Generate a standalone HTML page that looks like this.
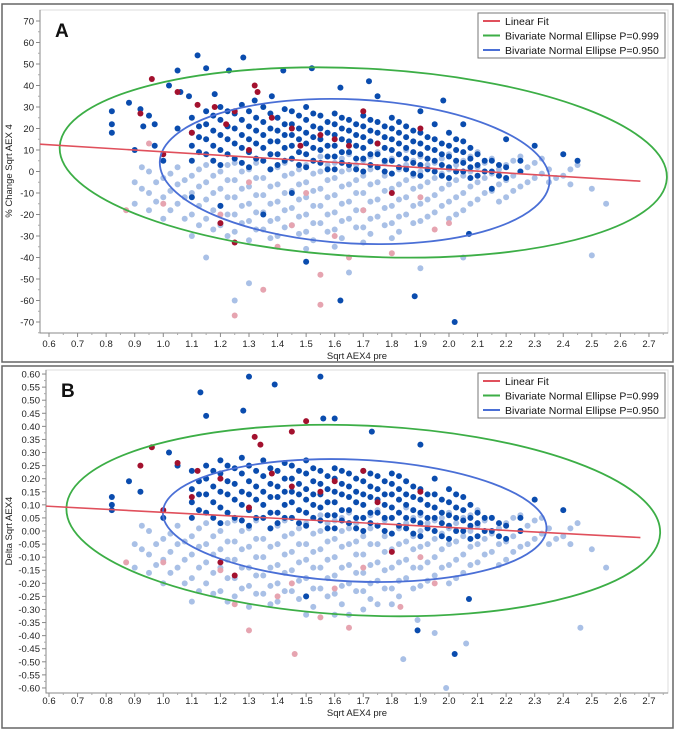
<!DOCTYPE html>
<html><head><meta charset="utf-8"><style>
html,body{margin:0;padding:0;background:#fff;}
svg{display:block;font-family:"Liberation Sans",Arial,sans-serif;}
</style></head><body>
<svg id="chart" width="675" height="731" viewBox="0 0 675 731">
<rect x="2" y="4" width="671" height="358" fill="#fff" stroke="#666" stroke-width="1.5"/>
<rect x="2" y="366" width="671" height="362" fill="#fff" stroke="#666" stroke-width="1.5"/>
<g id="pa"></g>
<g id="pb"></g>
</svg>
<script>
const xTicks=[0.6,0.7,0.8,0.9,1.0,1.1,1.2,1.3,1.4,1.5,1.6,1.7,1.8,1.9,2.0,2.1,2.2,2.3,2.4,2.5,2.6,2.7];
const yTicksA=[70,60,50,40,30,20,10,0,-10,-20,-30,-40,-50,-60,-70];
const yTicksB=[0.60,0.55,0.50,0.45,0.40,0.35,0.30,0.25,0.20,0.15,0.10,0.05,0.00,-0.05,-0.10,-0.15,-0.20,-0.25,-0.30,-0.35,-0.40,-0.45,-0.50,-0.55,-0.60];
const legendLabels=["Linear Fit","Bivariate Normal Ellipse P=0.999","Bivariate Normal Ellipse P=0.950"];

const lightA=[[0.90,[-5,-15]],[0.95,[0,-10,-18]],[1.00,[-3,-12,-22]],[1.05,[2,-6,-15]],[1.10,[-2,-10,-20,-30]],[1.15,[3,-5,-13,-22]],[1.20,[0,-8,-16,-25]],[1.25,[4,-4,-12,-20,-28]],[1.30,[1,-7,-15,-23,-32]],[1.35,[5,-3,-11,-19,-27]],[1.40,[2,-6,-14,-22,-30]],[1.45,[6,-1,-9,-17,-25]],[1.50,[3,-5,-12,-20,-28,-36]],[1.55,[7,0,-8,-16,-24]],[1.60,[4,-3,-11,-19,-27,-35]],[1.65,[8,1,-6,-14,-22]],[1.70,[5,-2,-10,-18,-26,-33]],[1.75,[9,2,-5,-13,-21]],[1.80,[6,-1,-8,-16,-24,-31]],[1.85,[10,3,-4,-12,-20]],[1.90,[7,0,-7,-15,-23]],[1.95,[4,-3,-11,-19]],[2.00,[8,1,-6,-14,-22]],[2.05,[5,-2,-10,-18]],[2.10,[9,2,-5,-13]],[2.15,[6,-1,-9]],[2.20,[3,-4,-12]],[2.25,[7,0,-7]],[2.30,[4,-3]],[2.35,[1,-5]],[2.40,[-2]],[2.45,[3]],[2.50,[-8]],[2.55,[-15]],[1.25,[-60]],[1.30,[-52]],[1.65,[-47]],[1.90,[-45]],[2.05,[-40]],[2.50,[-39]],[1.15,[-40]]];
const lightA2=[[0.925,[-8,2]],[0.975,[-5,-14]],[1.025,[-1,-9,-18]],[1.075,[-4,-12,-22]],[1.125,[1,-7,-16,-25]],[1.175,[-2,-10,-18,-27]],[1.225,[3,-4,-12,-20,-30]],[1.275,[0,-8,-16,-24]],[1.325,[4,-3,-11,-19,-27]],[1.375,[1,-7,-15,-23,-31]],[1.425,[4,-2,-10,-18,-26]],[1.475,[1,-6,-13,-21,-29]],[1.525,[5,-1,-9,-16,-24,-32]],[1.575,[3,-4,-12,-20,-28]],[1.625,[6,0,-7,-15,-23,-31]],[1.675,[3,-4,-10,-18,-26]],[1.725,[7,1,-6,-14,-22,-29]],[1.775,[4,-2,-9,-17,-25]],[1.825,[8,1,-6,-13,-21,-28]],[1.875,[5,-2,-8,-16,-24]],[1.925,[3,-5,-13,-21]],[1.975,[6,-1,-8,-16]],[2.025,[3,-4,-12,-20]],[2.075,[7,0,-7,-15]],[2.125,[4,-3,-10]],[2.175,[1,-6,-14]],[2.225,[5,-2,-9]],[2.275,[2,-5]],[2.325,[6,-1]],[2.375,[-3]],[2.425,[1,-6]]];
const darkA=[[1.10,[5,12,18,25]],[1.15,[8,15,22,28]],[1.20,[3,10,17,24,30]],[1.25,[6,13,20,27]],[1.30,[2,9,15,21,28]],[1.35,[5,11,17,23,30]],[1.40,[3,8,14,19,25]],[1.45,[6,12,17,22,28]],[1.50,[2,8,13,18,24,30]],[1.55,[4,10,15,20,26]],[1.60,[1,7,12,17,22,27]],[1.65,[3,9,14,19,24]],[1.70,[0,6,11,16,21,26]],[1.75,[2,8,13,18,23]],[1.80,[-1,5,10,15,20,25]],[1.85,[1,6,11,16,21]],[1.90,[-2,3,8,13,18]],[1.95,[0,5,10,15,22]],[2.00,[-3,2,7,12,18]],[2.05,[0,4,9,14]],[2.10,[-2,3,8]],[2.15,[0,5]],[2.20,[-3,2]],[0.82,[28,22,18]],[1.12,[54]],[1.15,[48]],[1.28,[53]],[1.23,[47]],[1.42,[47]],[1.52,[48]],[1.05,[47,20]],[1.02,[40]],[0.88,[32]],[0.92,[29]],[0.95,[26]],[0.97,[22]],[0.93,[21]],[1.06,[37]],[1.09,[35]],[1.18,[36]],[1.32,[33]],[1.38,[35]],[1.62,[39]],[1.75,[35]],[1.90,[28]],[2.05,[22]],[2.20,[15]],[2.30,[12]],[2.40,[8]],[2.45,[5]],[1.98,[33]],[1.72,[42]],[2.07,[-29]],[2.02,[-70]],[1.88,[-58]],[1.50,[-42]],[1.62,[-60]],[1.20,[-16]],[1.35,[-20]],[1.45,[-10]],[2.15,[-8]],[1.10,[-12]],[1.00,[5]],[0.90,[10]],[0.97,[12]]];
const darkA2=[[1.125,[9,16,21]],[1.175,[5,12,19,26]],[1.225,[8,15,21,28]],[1.275,[4,11,17,24,31]],[1.325,[6,13,19,25]],[1.375,[1,8,14,20,27]],[1.425,[5,11,17,22,29]],[1.475,[3,9,15,20,26]],[1.525,[5,11,16,21,27]],[1.575,[1,7,12,18,23]],[1.625,[4,9,15,20,25]],[1.675,[1,6,12,17,22]],[1.725,[3,8,14,19,24]],[1.775,[0,5,11,16,21]],[1.825,[2,8,13,18,23]],[1.875,[-1,4,9,14,19]],[1.925,[1,6,11,16]],[1.975,[-2,3,8,13]],[2.025,[0,5,10,15]],[2.075,[-3,2,6,11]],[2.125,[0,5]],[2.175,[-2,3]],[2.25,[0,5]]];
const redA=[[0.96,[43]],[0.92,[27]],[1.05,[37]],[1.12,[31]],[1.18,[30]],[1.25,[28]],[1.32,[40]],[1.33,[37]],[1.38,[25]],[1.22,[22]],[1.10,[18]],[1.45,[20]],[1.55,[17]],[1.60,[15]],[1.70,[28]],[1.75,[13]],[1.30,[10]],[1.00,[8]],[1.48,[12]],[1.20,[-24]],[1.25,[-33]],[1.65,[12]],[1.80,[-10]],[1.90,[20]]];
const pinkA=[[1.25,[-67]],[1.55,[-62]],[1.35,[-55]],[1.55,[-48]],[1.40,[-35]],[1.20,[-20]],[1.00,[-15]],[1.60,[-30]],[1.80,[-38]],[1.95,[-27]],[2.00,[-24]],[1.70,[-18]],[1.50,[-10]],[0.87,[-18]],[1.65,[-40]],[1.30,[-5]],[1.45,[-25]],[0.95,[13]],[1.90,[-12]]];

const lightB=[[0.90,[-0.05,-0.14]],[0.95,[0.00,-0.09,-0.16]],[1.00,[-0.03,-0.11,-0.20]],[1.05,[0.02,-0.05,-0.14]],[1.10,[-0.02,-0.09,-0.18,-0.27]],[1.15,[0.03,-0.05,-0.12,-0.20]],[1.20,[0.00,-0.07,-0.14,-0.23]],[1.25,[0.04,-0.04,-0.11,-0.18,-0.25]],[1.30,[0.01,-0.06,-0.14,-0.21,-0.29]],[1.35,[0.05,-0.03,-0.10,-0.17,-0.24]],[1.40,[0.02,-0.05,-0.13,-0.20,-0.27]],[1.45,[0.05,-0.01,-0.08,-0.15,-0.23]],[1.50,[0.03,-0.05,-0.11,-0.18,-0.25,-0.32]],[1.55,[0.06,0.00,-0.07,-0.14,-0.22]],[1.60,[0.04,-0.03,-0.10,-0.17,-0.24,-0.32]],[1.65,[0.07,0.01,-0.05,-0.13,-0.20]],[1.70,[0.05,-0.02,-0.09,-0.16,-0.23,-0.30]],[1.75,[0.08,0.02,-0.05,-0.12,-0.19]],[1.80,[0.05,-0.01,-0.07,-0.14,-0.22,-0.28]],[1.85,[0.09,0.03,-0.04,-0.11,-0.18]],[1.90,[0.06,0.00,-0.06,-0.14,-0.21]],[1.95,[0.04,-0.03,-0.10,-0.17]],[2.00,[0.07,0.01,-0.05,-0.13,-0.20]],[2.05,[0.05,-0.02,-0.09,-0.16]],[2.10,[0.08,0.02,-0.05,-0.12]],[2.15,[0.05,-0.01,-0.08]],[2.20,[0.03,-0.04,-0.11]],[2.25,[0.06,0.00,-0.06]],[2.30,[0.04,-0.03]],[2.35,[0.01,-0.05]],[2.40,[-0.02]],[2.45,[0.03]],[2.50,[-0.07]],[2.55,[-0.14]],[1.84,[-0.49]],[1.99,[-0.60]],[2.06,[-0.43]],[1.95,[-0.39]],[1.89,[-0.34]],[2.46,[-0.37]],[1.65,[-0.32]],[1.75,[-0.28]]];
const lightB2=[[0.925,[-0.07,0.02]],[0.975,[-0.05,-0.13]],[1.025,[-0.01,-0.08,-0.16]],[1.075,[-0.04,-0.11,-0.20]],[1.125,[0.01,-0.06,-0.14,-0.23]],[1.175,[-0.02,-0.09,-0.16,-0.24]],[1.225,[0.03,-0.04,-0.11,-0.18,-0.27]],[1.275,[0.00,-0.07,-0.14,-0.22]],[1.325,[0.04,-0.03,-0.10,-0.17,-0.24]],[1.375,[0.01,-0.06,-0.14,-0.21,-0.28]],[1.425,[0.04,-0.02,-0.09,-0.16,-0.23]],[1.475,[0.01,-0.05,-0.12,-0.19,-0.26]],[1.525,[0.05,-0.01,-0.08,-0.14,-0.22,-0.29]],[1.575,[0.03,-0.04,-0.11,-0.18,-0.25]],[1.625,[0.05,0.00,-0.06,-0.14,-0.21,-0.28]],[1.675,[0.03,-0.04,-0.09,-0.16,-0.23]],[1.725,[0.06,0.01,-0.05,-0.13,-0.20,-0.26]],[1.775,[0.04,-0.02,-0.08,-0.15,-0.22]],[1.825,[0.07,0.01,-0.05,-0.12,-0.19,-0.25]],[1.875,[0.05,-0.02,-0.07,-0.14,-0.22]],[1.925,[0.03,-0.05,-0.12,-0.19]],[1.975,[0.05,-0.01,-0.07,-0.14]],[2.025,[0.03,-0.04,-0.11,-0.18]],[2.075,[0.06,0.00,-0.06,-0.13]],[2.125,[0.04,-0.03,-0.09]],[2.175,[0.01,-0.05,-0.13]],[2.225,[0.05,-0.02,-0.08]],[2.275,[0.02,-0.05]],[2.325,[0.05,-0.01]],[2.375,[-0.03]],[2.425,[0.01,-0.05]]];
const darkB=[[1.10,[0.05,0.11,0.16,0.23]],[1.15,[0.07,0.14,0.20,0.25]],[1.20,[0.03,0.09,0.15,0.22,0.27]],[1.25,[0.05,0.12,0.18,0.24]],[1.30,[0.02,0.08,0.14,0.19,0.25]],[1.35,[0.05,0.10,0.15,0.21,0.27]],[1.40,[0.03,0.07,0.13,0.17,0.23]],[1.45,[0.05,0.11,0.15,0.20,0.25]],[1.50,[0.02,0.07,0.12,0.16,0.22,0.27]],[1.55,[0.04,0.09,0.14,0.18,0.23]],[1.60,[0.01,0.06,0.11,0.15,0.20,0.24]],[1.65,[0.03,0.08,0.13,0.17,0.22]],[1.70,[0.00,0.05,0.10,0.14,0.19,0.23]],[1.75,[0.02,0.07,0.12,0.16,0.21]],[1.80,[-0.01,0.05,0.09,0.14,0.18,0.22]],[1.85,[0.01,0.05,0.10,0.14,0.19]],[1.90,[-0.02,0.03,0.07,0.12,0.16]],[1.95,[0.00,0.05,0.09,0.14,0.20]],[2.00,[-0.03,0.02,0.06,0.11,0.16]],[2.05,[0.00,0.04,0.08,0.13]],[2.10,[-0.02,0.03,0.07]],[2.15,[0.00,0.05]],[2.20,[-0.03,0.02]],[1.13,[0.53]],[1.30,[0.59]],[1.39,[0.56]],[1.55,[0.59]],[1.15,[0.44]],[1.28,[0.46]],[1.56,[0.43]],[1.60,[0.43]],[0.82,[0.13,0.10,0.08]],[0.88,[0.19]],[1.05,[0.25]],[1.02,[0.30]],[1.73,[0.38]],[1.90,[0.33]],[2.02,[-0.47]],[1.89,[-0.38]],[2.07,[-0.26]],[1.50,[-0.25]],[2.30,[0.12]],[2.40,[0.08]],[1.00,[0.05]],[0.92,[0.15]]];
const darkB2=[[1.125,[0.08,0.14,0.19]],[1.175,[0.05,0.11,0.17,0.23]],[1.225,[0.07,0.14,0.19,0.25]],[1.275,[0.04,0.10,0.15,0.22,0.28]],[1.325,[0.05,0.12,0.17,0.23]],[1.375,[0.01,0.07,0.13,0.18,0.24]],[1.425,[0.05,0.10,0.15,0.20,0.26]],[1.475,[0.03,0.08,0.14,0.18,0.23]],[1.525,[0.05,0.10,0.14,0.19,0.24]],[1.575,[0.01,0.06,0.11,0.16,0.21]],[1.625,[0.04,0.08,0.14,0.18,0.23]],[1.675,[0.01,0.05,0.11,0.15,0.20]],[1.725,[0.03,0.07,0.13,0.17,0.22]],[1.775,[0.00,0.05,0.10,0.14,0.19]],[1.825,[0.02,0.07,0.12,0.16,0.21]],[1.875,[-0.01,0.04,0.08,0.13,0.17]],[1.925,[0.01,0.05,0.10,0.14]],[1.975,[-0.02,0.03,0.07,0.12]],[2.025,[0.00,0.05,0.09,0.14]],[2.075,[-0.03,0.02,0.05,0.10]],[2.125,[0.00,0.05]],[2.175,[-0.02,0.03]],[2.25,[0.00,0.05]]];
const redB=[[0.96,[0.32]],[0.92,[0.25]],[1.05,[0.26]],[1.12,[0.23]],[1.20,[0.20]],[1.32,[0.36]],[1.34,[0.33]],[1.50,[0.42]],[1.45,[0.38]],[1.38,[0.22]],[1.10,[0.13]],[1.45,[0.17]],[1.55,[0.15]],[1.60,[0.19]],[1.70,[0.23]],[1.75,[0.11]],[1.30,[0.09]],[1.00,[0.08]],[1.20,[-0.12]],[1.25,[-0.17]],[1.80,[-0.08]],[1.90,[0.15]]];
const pinkB=[[1.25,[-0.28]],[1.30,[-0.38]],[1.46,[-0.47]],[1.55,[-0.33]],[1.65,[-0.37]],[1.83,[-0.29]],[1.40,[-0.25]],[1.20,[-0.15]],[1.00,[-0.12]],[1.60,[-0.22]],[1.95,[-0.20]],[1.70,[-0.14]],[0.87,[-0.12]],[1.45,[-0.20]],[1.90,[-0.10]]];

const fitA=[0.47,13.5,2.67,-4.5];
const fitB=[0.47,0.102,2.67,-0.025];
const ellA999=[1.70,4.2,1.064,43.7,3];
const ellA950=[1.67,0.0,0.683,33.5,3];
const ellB999=[1.70,0.04,1.04,0.363,2.5];
const ellB950=[1.67,0.04,0.672,0.233,2.5];

const NS="http://www.w3.org/2000/svg";
function mk(parent,tag,attrs){const e=document.createElementNS(NS,tag);for(const k in attrs)e.setAttribute(k,attrs[k]);parent.appendChild(e);return e;}
const xS=v=>49+(v-0.6)*285.7;

function drawPanel(g,cfg){
  const {yS,yTicks,yFmt,left,top,bottom,right,light,dark,red,pink,fit,e999,e950,letter,ytitle,ymid,minorStep,xlabY}=cfg;
  const plot=mk(g,'rect',{x:left,y:top,width:right-left,height:bottom-top,fill:'#fff',stroke:'#ddd'});
  
  
  const ax=mk(g,'path',{d:`M${left},${top}V${bottom}H${right}`,stroke:'#888',fill:'none'});
  
  
  yTicks.forEach(v=>{
    const y=yS(v);
    mk(g,'line',{x1:left-4,x2:left,y1:y,y2:y,stroke:'#888'});
    const t=mk(g,'text',{x:left-6,y:y+3.5,'text-anchor':'end','font-size':9.5,fill:'#222'});
    t.textContent=yFmt(v);
    
    
    const ym=yS(v-minorStep);
    if(ym<bottom) mk(g,'line',{x1:left-2,x2:left,y1:ym,y2:ym,stroke:'#aaa'});
  });
  xTicks.forEach(v=>{
    const x=xS(v);
    mk(g,'line',{x1:x,x2:x,y1:bottom,y2:bottom+4,stroke:'#888'});
    mk(g,'line',{x1:x+14.3,x2:x+14.3,y1:bottom,y2:bottom+2,stroke:'#aaa'});
    const t=mk(g,'text',{x:x,y:xlabY,'text-anchor':'middle','font-size':9.5,fill:'#222'});
    t.textContent=v.toFixed(1);
    
    
  });
  const xt=mk(g,'text',{x:357,y:xlabY+12,'text-anchor':'middle','font-size':9.5,fill:'#222'});
  xt.textContent='Sqrt AEX4 pre';
  
  
  const yt=mk(g,'text',{x:12,y:ymid,'text-anchor':'middle','font-size':9.5,fill:'#222',transform:`rotate(-90 12 ${ymid})`});
  yt.textContent=ytitle;
  
  
  const clipId='clip'+letter;
  const cp=mk(g,'clipPath',{id:clipId});mk(cp,'rect',{x:left,y:top,width:right-left,height:bottom-top});
  const pts=mk(g,'g',{'clip-path':`url(#${clipId})`});
  
  
  const series=[[light,'#a9c0e6','point-light-blue'],[pink,'#e6a4b0','point-pink'],[dark,'#0a4cae','point-dark-blue'],[red,'#a3112e','point-red']];
  series.forEach(([arr,col,nm])=>{
    arr.forEach(([x,ys])=>ys.forEach(y=>{
      const c=mk(pts,'circle',{cx:xS(x),cy:yS(y),r:3,fill:col});
      
      
    }));
  });
  [[e999,'#3cae46','ellipse-p999'],[e950,'#4a6fd6','ellipse-p950']].forEach(([e,col,nm])=>{
    const cx=xS(e[0]),cy=yS(e[1]),rx=e[2]*285.7,ry=Math.abs(yS(e[3])-yS(0));
    const el=mk(pts,'ellipse',{cx,cy,rx,ry,fill:'none',stroke:col,'stroke-width':1.8,transform:`rotate(${e[4]} ${cx} ${cy})`});
    
    
  });
  const fl=mk(pts,'line',{x1:xS(fit[0]),y1:yS(fit[1]),x2:xS(fit[2]),y2:yS(fit[3]),stroke:'#e0505c','stroke-width':1.6});
  
  
  const L=mk(g,'text',{x:left+15,y:top+27,'font-size':19,'font-weight':'bold',fill:'#111'});
  L.textContent=letter;
  
  
  const lg=mk(g,'g',{});
  
  
  mk(lg,'rect',{x:478,y:top+3,width:187,height:45,fill:'#fff',stroke:'#777'});
  const cols=['#e0505c','#3cae46','#4a6fd6'];
  legendLabels.forEach((s,i)=>{
    const y=top+11+i*14.5;
    mk(lg,'line',{x1:483,x2:500,y1:y,y2:y,stroke:cols[i],'stroke-width':2});
    const t=mk(lg,'text',{x:505,y:y+4,'font-size':10.5,fill:'#111'});
    t.textContent=s;
    
    
  });
}
drawPanel(document.getElementById('pa'),{yS:v=>171.5-v*2.15,yTicks:yTicksA,yFmt:v=>String(v),left:40,top:10,bottom:333,right:668,
  light:lightA.concat(lightA2),dark:darkA.concat(darkA2),red:redA,pink:pinkA,fit:fitA,e999:ellA999,e950:ellA950,letter:'A',ytitle:'% Change Sqrt AEX 4',ymid:171,minorStep:5,xlabY:347});
drawPanel(document.getElementById('pb'),{yS:v=>531-v*261.6,yTicks:yTicksB,yFmt:v=>v.toFixed(2),left:46,top:370,bottom:693,right:668,
  light:lightB.concat(lightB2),dark:darkB.concat(darkB2),red:redB,pink:pinkB,fit:fitB,e999:ellB999,e950:ellB950,letter:'B',ytitle:'Delta Sqrt AEX4',ymid:531,minorStep:0.025,xlabY:704});
</script>
</body></html>
